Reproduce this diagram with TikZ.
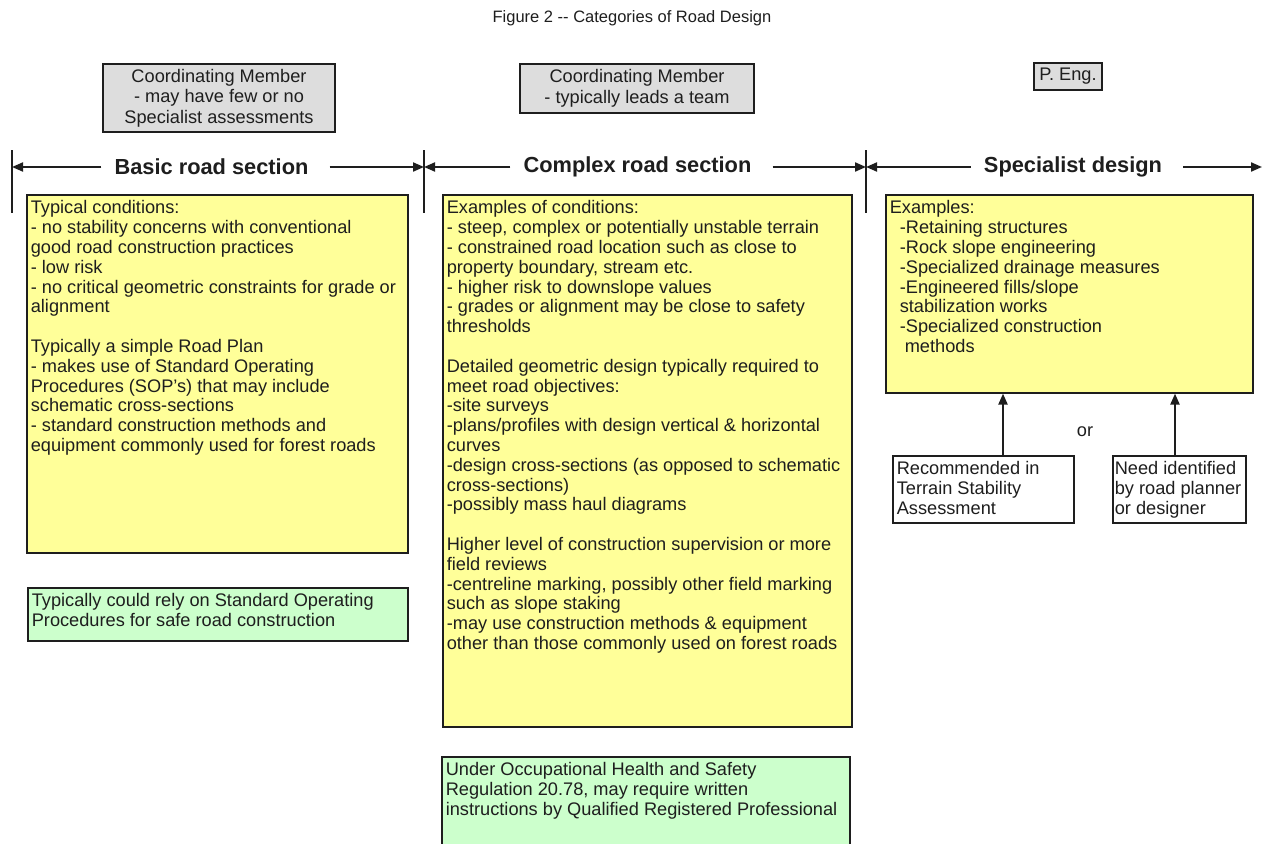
\documentclass[tikz,border=0pt]{standalone}
\usepackage{fontspec}
\setmainfont{Liberation Sans}
\usetikzlibrary{arrows.meta}
\definecolor{yel}{HTML}{FFFF99}
\definecolor{grn}{HTML}{CCFFCC}
\definecolor{gry}{HTML}{DDDDDD}
\definecolor{ink}{HTML}{1E1E1E}
\begin{document}
\begin{tikzpicture}[x=1pt,y=-1pt,
  every node/.style={font=\fontsize{18.2}{19.8}\selectfont, text=ink},
  tbox/.style={draw=ink, line width=1.6pt, anchor=north west, inner xsep=4pt, inner ysep=6pt},
  ybox/.style={tbox, fill=yel},
  gnbox/.style={tbox, fill=grn},
  wbox/.style={tbox, fill=white, inner xsep=4pt},
  gybox/.style={draw=ink, line width=1.6pt, fill=gry, align=center, inner sep=0pt,
     font=\fontsize{18.2}{20.5}\selectfont},
  dimlabel/.style={fill=white, inner xsep=13pt, inner ysep=2pt,
     font=\fontsize{21.8}{24}\selectfont\bfseries},
  dim/.style={draw=ink, line width=2pt, -{Triangle[length=11pt,width=9pt]}},
  tick/.style={draw=ink, line width=1.6pt},
  uparrow/.style={draw=ink, line width=2.2pt, -{Triangle[length=11pt,width=9pt]}}
]
\useasboundingbox (0,0) rectangle (1263,843);

% title
\node[font=\fontsize{16.5}{19}\selectfont] (title) at (632,18) {Figure 2 -{}- Categories of Road Design};

% coordinating boxes
\node[gybox, minimum width=232pt, minimum height=68pt] (g1) at (219,98)
  {Coordinating Member\\- may have few or no\\Specialist assessments};
\node[gybox, minimum width=234pt, minimum height=49pt] (g2) at (637,88.5)
  {Coordinating Member\\- typically leads a team};
\node[gybox, minimum width=68pt, minimum height=27pt] (g3) at (1068,76.5) {P. Eng.};

% dimension line
\coordinate (t0) at (12,167);
\coordinate (t1) at (424,167);
\coordinate (t2) at (866,167);
\coordinate (t3) at (1262,167);
\draw[tick] (12,150) -- (12,213);
\draw[tick] (424,150) -- (424,213);
\draw[tick] (866,150) -- (866,213);
\node[dimlabel] (lb) at (215.5,167) {Basic road section\hspace*{8pt}};
\node[dimlabel] (lc) at (641.5,167) {Complex road section\hspace*{8pt}};
\node[dimlabel] (ls) at (1077,167) {Specialist design\hspace*{8pt}};
\draw[dim] (lb.west) -- (t0);
\draw[dim] (lb.east) -- (t1);
\draw[dim] (lc.west) -- (t1);
\draw[dim] (lc.east) -- (t2);
\draw[dim] (ls.west) -- (t2);
\draw[dim] (ls.east) -- (t3);

% yellow boxes
\node[ybox] (y1) at (26,194) {\begin{minipage}[t][346pt][t]{373pt}
Typical conditions:\\
- no stability concerns with conventional\\
good road construction practices\\
- low risk\\
- no critical geometric constraints for grade or\\
alignment\\[19.8pt]
Typically a simple Road Plan\\
- makes use of Standard Operating\\
Procedures (SOP's) that may include\\
schematic cross-sections\\
- standard construction methods and\\
equipment commonly used for forest roads
\end{minipage}};

\node[ybox] (y2) at (442,194) {\begin{minipage}[t][520pt][t]{401pt}
Examples of conditions:\\
- steep, complex or potentially unstable terrain\\
- constrained road location such as close to\\
property boundary, stream etc.\\
- higher risk to downslope values\\
- grades or alignment may be close to safety\\
thresholds\\[19.8pt]
Detailed geometric design typically required to\\
meet road objectives:\\
-site surveys\\
-plans/profiles with design vertical \& horizontal\\
curves\\
-design cross-sections (as opposed to schematic\\
cross-sections)\\
-possibly mass haul diagrams\\[19.8pt]
Higher level of construction supervision or more\\
field reviews\\
-centreline marking, possibly other field marking\\
such as slope staking\\
-may use construction methods \& equipment\\
other than those commonly used on forest roads
\end{minipage}};

\node[ybox] (y3) at (885,194) {\begin{minipage}[t][186pt][t]{359pt}
Examples:\\
\hspace*{10pt}-Retaining structures\\
\hspace*{10pt}-Rock slope engineering\\
\hspace*{10pt}-Specialized drainage measures\\
\hspace*{10pt}-Engineered fills/slope\\
\hspace*{10pt}stabilization works\\
\hspace*{10pt}-Specialized construction\\
\hspace*{15pt}methods
\end{minipage}};

% green boxes
\node[gnbox] (n1) at (27,587) {\begin{minipage}[t][41pt][t]{372pt}
Typically could rely on Standard Operating\\
Procedures for safe road construction
\end{minipage}};
\node[gnbox] (n2) at (441,756) {\begin{minipage}[t][90pt][t]{400pt}
Under Occupational Health and Safety\\
Regulation 20.78, may require written\\
instructions by Qualified Registered Professional
\end{minipage}};

% white boxes and arrows
\node[wbox] (w1) at (892,455) {\begin{minipage}[t][55pt][t]{173pt}
Recommended in\\
Terrain Stability\\
Assessment
\end{minipage}};
\node[wbox, inner xsep=2pt] (w2) at (1112,455) {\begin{minipage}[t][55pt][t]{129pt}
Need identified\\
by road planner\\
or designer
\end{minipage}};
\coordinate (a1) at (1003,0);
\coordinate (a2) at (1175,0);
\draw[uparrow] (w1.north -| a1) -- (y3.south -| a1);
\draw[uparrow] (w2.north -| a2) -- (y3.south -| a2);
\node (or) at (1085,432) {or};
\end{tikzpicture}
\end{document}
